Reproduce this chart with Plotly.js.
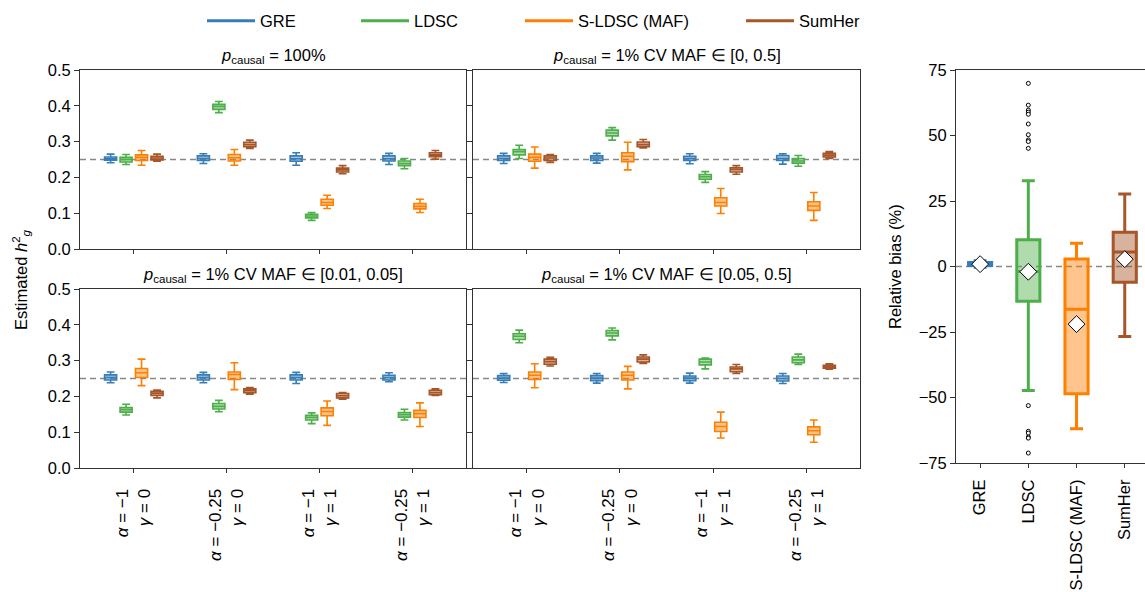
<!DOCTYPE html>
<html><head><meta charset="utf-8">
<script src="https://cdn.plot.ly/plotly-3.0.1.min.js"></script>
<style>html,body{margin:0;padding:0;background:#fff}#chart{width:1145px;height:592px}</style>
</head><body><div id="chart"></div>
<script>
// ---------- data ----------
const methods = ['GRE', 'LDSC', 'S-LDSC (MAF)', 'SumHer'];
const colors = ['#377eb8', '#4daf4a', '#ff7f00', '#a65628'];
const fills = ['rgba(55,126,184,0.45)', 'rgba(77,175,74,0.45)', 'rgba(255,127,0,0.45)', 'rgba(166,86,40,0.45)'];
const conditions = ['a=-1,g=0', 'a=-0.25,g=0', 'a=-1,g=1', 'a=-0.25,g=1'];
const conditionLabels = ['<i>α</i> = −1<br><i>γ</i> = 0', '<i>α</i> = −0.25<br><i>γ</i> = 0',
                         '<i>α</i> = −1<br><i>γ</i> = 1', '<i>α</i> = −0.25<br><i>γ</i> = 1'];
const panelTitles = ['<i>p</i><sub>causal</sub> = 100%',
                     '<i>p</i><sub>causal</sub> = 1% CV MAF ∈ [0, 0.5]',
                     '<i>p</i><sub>causal</sub> = 1% CV MAF ∈ [0.01, 0.05]',
                     '<i>p</i><sub>causal</sub> = 1% CV MAF ∈ [0.05, 0.5]'];
const trueH2 = 0.25;

// rows: GRE, LDSC, S-LDSC (MAF), SumHer ; columns: conditions
// panel A: p_causal = 100%
const A_lo  = [[0.241,0.239,0.234,0.236],[0.236,0.381,0.080,0.224],[0.234,0.234,0.113,0.102],[0.245,0.281,0.210,0.251]];
const A_q1  = [[0.248,0.247,0.245,0.246],[0.243,0.390,0.087,0.233],[0.247,0.246,0.122,0.112],[0.249,0.286,0.215,0.258]];
const A_med = [[0.252,0.253,0.252,0.252],[0.250,0.398,0.092,0.239],[0.256,0.255,0.130,0.119],[0.254,0.292,0.221,0.263]];
const A_q3  = [[0.257,0.260,0.260,0.260],[0.256,0.404,0.097,0.246],[0.263,0.264,0.139,0.127],[0.259,0.298,0.226,0.269]];
const A_hi  = [[0.265,0.266,0.269,0.267],[0.264,0.412,0.102,0.253],[0.275,0.278,0.150,0.139],[0.265,0.304,0.233,0.275]];
// panel B: 1% CV MAF in [0, 0.5]
const B_lo  = [[0.239,0.240,0.238,0.237],[0.253,0.304,0.186,0.231],[0.226,0.221,0.099,0.080],[0.242,0.282,0.209,0.253]];
const B_q1  = [[0.247,0.247,0.247,0.247],[0.263,0.316,0.195,0.240],[0.245,0.244,0.120,0.108],[0.247,0.286,0.215,0.257]];
const B_med = [[0.253,0.254,0.253,0.253],[0.272,0.324,0.202,0.246],[0.256,0.259,0.130,0.120],[0.254,0.292,0.222,0.262]];
const B_q3  = [[0.260,0.260,0.259,0.261],[0.278,0.332,0.208,0.253],[0.265,0.269,0.143,0.132],[0.260,0.299,0.227,0.267]];
const B_hi  = [[0.267,0.267,0.266,0.266],[0.290,0.339,0.216,0.261],[0.285,0.298,0.169,0.158],[0.264,0.306,0.233,0.272]];
// panel C: 1% CV MAF in [0.01, 0.05]
const C_lo  = [[0.238,0.238,0.236,0.241],[0.148,0.157,0.124,0.134],[0.230,0.219,0.119,0.116],[0.196,0.206,0.192,0.203]];
const C_q1  = [[0.246,0.246,0.246,0.246],[0.156,0.165,0.134,0.142],[0.253,0.247,0.146,0.141],[0.203,0.210,0.196,0.205]];
const C_med = [[0.253,0.253,0.253,0.253],[0.163,0.172,0.141,0.149],[0.266,0.261,0.158,0.152],[0.209,0.216,0.202,0.211]];
const C_q3  = [[0.260,0.260,0.260,0.259],[0.169,0.180,0.147,0.155],[0.278,0.268,0.168,0.161],[0.214,0.221,0.208,0.217]];
const C_hi  = [[0.268,0.267,0.267,0.266],[0.178,0.189,0.154,0.164],[0.304,0.294,0.187,0.182],[0.218,0.225,0.211,0.221]];
// panel D: 1% CV MAF in [0.05, 0.5]
const D_lo  = [[0.239,0.237,0.237,0.236],[0.350,0.358,0.277,0.289],[0.224,0.221,0.084,0.072],[0.285,0.292,0.264,0.276]];
const D_q1  = [[0.245,0.244,0.244,0.243],[0.359,0.369,0.288,0.294],[0.247,0.246,0.102,0.093],[0.290,0.296,0.269,0.279]];
const D_med = [[0.251,0.251,0.251,0.250],[0.368,0.377,0.296,0.302],[0.259,0.259,0.116,0.104],[0.297,0.304,0.277,0.283]];
const D_q3  = [[0.258,0.258,0.257,0.257],[0.375,0.384,0.304,0.310],[0.268,0.268,0.128,0.115],[0.304,0.310,0.282,0.287]];
const D_hi  = [[0.264,0.264,0.265,0.264],[0.385,0.391,0.307,0.318],[0.291,0.284,0.156,0.134],[0.309,0.316,0.289,0.291]];

// relative bias (%) panel, one value per method
const bias_lo   = [-0.3, -47.3, -61.9, -26.7];
const bias_q1   = [0.4, -13.3, -48.6, -6.0];
const bias_med  = [1.0, -1.9, -16.3, 5.5];
const bias_q3   = [1.5, 10.2, 2.9, 13.1];
const bias_hi   = [2.2, 32.7, 8.9, 27.7];
const bias_mean = [0.9, -2.0, -22.0, 2.8];
const ldscOutliers = [69.9, 61.6, 59.7, 58.9, 58.1, 54.4, 50.3, 48.3, 47.7, 45.1,
                      -53.1, -62.9, -63.6, -65.1, -65.5, -71.2];

// ---------- build ----------
const FONT = 'Liberation Sans, Arial, Helvetica, sans-serif';
const FS = 16.5;
const W = 1145, H = 592;
const px = v => v / W;
const py = v => 1 - v / H;

const panels = [
  {lo:A_lo, q1:A_q1, med:A_med, q3:A_q3, hi:A_hi, ax:'', grp:'A'},
  {lo:B_lo, q1:B_q1, med:B_med, q3:B_q3, hi:B_hi, ax:'2', grp:'B'},
  {lo:C_lo, q1:C_q1, med:C_med, q3:C_q3, hi:C_hi, ax:'3', grp:'C'},
  {lo:D_lo, q1:D_q1, med:D_med, q3:D_q3, hi:D_hi, ax:'4', grp:'D'}
];

const traces = [];
panels.forEach(p => {
  methods.forEach((m, i) => {
    traces.push({
      type:'box', xaxis:'x' + p.ax, yaxis:'y' + p.ax,
      x: conditions, q1: p.q1[i], median: p.med[i], q3: p.q3[i],
      lowerfence: p.lo[i], upperfence: p.hi[i],
      alignmentgroup: p.grp, offsetgroup: m,
      line:{color: colors[i], width:1.6}, fillcolor: fills[i],
      marker:{color: colors[i]}, whiskerwidth:0.65, boxpoints:false,
      showlegend:false, hoverinfo:'skip', name:m
    });
  });
});
methods.forEach((m, i) => {
  traces.push({
    type:'box', xaxis:'x5', yaxis:'y5',
    x:[m], q1:[bias_q1[i]], median:[bias_med[i]], q3:[bias_q3[i]],
    lowerfence:[bias_lo[i]], upperfence:[bias_hi[i]],
    alignmentgroup:'R', offsetgroup:'R', width:0.48,
    line:{color: colors[i], width:3}, fillcolor: fills[i],
    marker:{color: colors[i]}, whiskerwidth:0.56, boxpoints:false,
    showlegend:false, hoverinfo:'skip', name:m
  });
});
traces.push({
  type:'scatter', mode:'markers', xaxis:'x5', yaxis:'y5',
  x: ldscOutliers.map(() => methods[1]), y: ldscOutliers,
  marker:{symbol:'circle', size:4, color:'white', line:{color:'black', width:1}},
  showlegend:false, hoverinfo:'skip'
});
traces.push({
  type:'scatter', mode:'markers', xaxis:'x5', yaxis:'y5',
  x: methods, y: bias_mean,
  marker:{symbol:'diamond', size:13, color:'white', line:{color:'black', width:1}},
  showlegend:false, hoverinfo:'skip'
});
// legend entries (lines)
const legendIds = ['legend', 'legend2', 'legend3', 'legend4'];
methods.forEach((m, i) => {
  traces.push({
    type:'scatter', mode:'lines', xaxis:'x5', yaxis:'y5', x:[null], y:[null],
    name:m, line:{color: colors[i], width:3}, legend: legendIds[i], hoverinfo:'skip'
  });
});

const axLine = '#333';
function xCat(domain, anchor, showLabels) {
  return {
    domain, anchor, type:'category', range:[-0.58, 3.58],
    tickmode:'array', tickvals: conditions, ticktext: conditionLabels,
    showticklabels: showLabels, tickangle:-90, ticklabelstandoff:9,
    ticks:'outside', ticklen:4, tickcolor:axLine, showline:true, linecolor:axLine, linewidth:1,
    mirror:true, showgrid:false, zeroline:false,
    tickfont:{family:FONT, size:17, color:'#000'}
  };
}
function yH2(domain, anchor, showLabels) {
  return {
    domain, anchor, range:[0, 0.5], tickvals:[0,0.1,0.2,0.3,0.4,0.5], tickformat:'.1f',
    showticklabels: showLabels,
    ticks:'outside', ticklen:5, tickcolor:axLine, showline:true, linecolor:axLine, linewidth:1,
    mirror:true, showgrid:false, zeroline:false,
    tickfont:{family:FONT, size:FS, color:'#000'}
  };
}
const xL = [px(80), px(466)], xR = [px(473), px(860)];
const yT = [py(249), py(70)], yB = [py(468), py(289)];

const shapes = [];
['', '2', '3', '4'].forEach(a => {
  shapes.push({type:'line', xref:'x' + a + ' domain', yref:'y' + a, x0:0, x1:1, y0:trueH2, y1:trueH2,
    line:{color:'#888', width:1.5, dash:'6px,4px'}, layer:'below'});
});
shapes.push({type:'line', xref:'x5 domain', yref:'y5', x0:0, x1:1, y0:0, y1:0,
  line:{color:'#888', width:1.5, dash:'6px,4px'}, layer:'below'});

const titleY = [56, 56, 275, 275];
const titleX = [273, 666.5, 273, 666.5];
const annotations = panelTitles.map((t, i) => ({
  text:t, xref:'paper', yref:'paper', x:px(titleX[i]), y:py(titleY[i]),
  xanchor:'center', yanchor:'middle', showarrow:false,
  font:{family:FONT, size:FS, color:'#000'}
}));
annotations.push({
  text:'Estimated <i>h</i><sup>2</sup><sub><i>g</i></sub>', xref:'paper', yref:'paper',
  x:px(21), y:py(279), xanchor:'center', yanchor:'middle', textangle:-90, showarrow:false,
  font:{family:FONT, size:FS, color:'#000'}
});
annotations.push({
  text:'Relative bias (%)', xref:'paper', yref:'paper',
  x:px(895), y:py(267), xanchor:'center', yanchor:'middle', textangle:-90, showarrow:false,
  font:{family:FONT, size:FS, color:'#000'}
});

const legendX = [202, 356, 520, 741];
const layout = {
  width:W, height:H, margin:{l:0, r:0, t:0, b:0},
  paper_bgcolor:'#fff', plot_bgcolor:'#fff',
  boxmode:'group', boxgap:0.333, boxgroupgap:0.22,
  font:{family:FONT, size:FS, color:'#000'},
  xaxis: xCat(xL, 'y', false),  yaxis: yH2(yT, 'x', true),
  xaxis2: xCat(xR, 'y2', false), yaxis2: yH2(yT, 'x2', false),
  xaxis3: xCat(xL, 'y3', true),  yaxis3: yH2(yB, 'x3', true),
  xaxis4: xCat(xR, 'y4', true),  yaxis4: yH2(yB, 'x4', false),
  xaxis5: {domain:[px(956), 1], anchor:'y5', type:'category', range:[-0.5, 3.42],
    tickangle:-90, ticklabelstandoff:5, ticks:'outside', ticklen:4, tickcolor:axLine, showline:true, linecolor:axLine,
    linewidth:1, mirror:true, showgrid:false, zeroline:false,
    tickfont:{family:FONT, size:FS, color:'#000'}},
  yaxis5: {domain:[py(463), py(70)], anchor:'x5', range:[-75, 75], tickvals:[-75,-50,-25,0,25,50,75],
    ticks:'outside', ticklen:5, tickcolor:axLine, showline:true, linecolor:axLine, linewidth:1,
    mirror:false, showgrid:false, zeroline:false,
    tickfont:{family:FONT, size:FS, color:'#000'}},
  shapes, annotations
};
legendIds.forEach((id, i) => {
  layout[id] = {x:px(legendX[i]), y:py(21), xanchor:'left', yanchor:'middle', orientation:'h',
    bgcolor:'rgba(0,0,0,0)', borderwidth:0, itemwidth:48,
    font:{family:FONT, size:FS, color:'#000'}};
});

Plotly.newPlot('chart', traces, layout, {displayModeBar:false, staticPlot:true});
</script>
</body></html>
